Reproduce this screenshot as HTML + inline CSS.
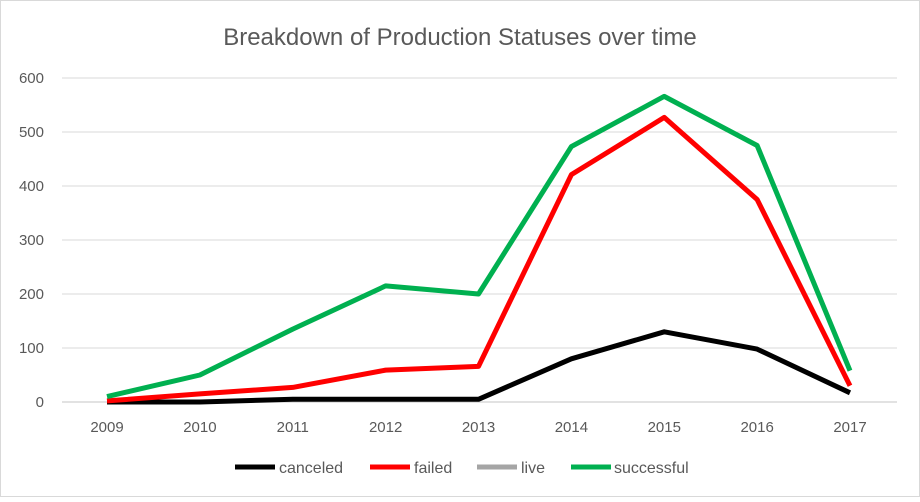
<!DOCTYPE html>
<html><head><meta charset="utf-8"><style>
body{margin:0;background:#fff;}
svg text{font-family:"Liberation Sans",sans-serif;fill:#595959;}
</style></head><body>
<svg width="920" height="497">
<rect x="0.5" y="0.5" width="919" height="496" fill="#fff" stroke="#d9d9d9"/>
<text x="460" y="45" text-anchor="middle" font-size="24">Breakdown of Production Statuses over time</text>
<g id="grid"></g><g id="series"></g>
<g>
<line x1="235" y1="467" x2="275" y2="467" stroke="#000" stroke-width="5"/>
<text x="279" y="473" font-size="16">canceled</text>
<line x1="370" y1="467" x2="410" y2="467" stroke="#ff0000" stroke-width="5"/>
<text x="414" y="473" font-size="16">failed</text>
<line x1="477" y1="467" x2="517" y2="467" stroke="#a5a5a5" stroke-width="5"/>
<text x="521" y="473" font-size="16">live</text>
<line x1="571" y1="467" x2="611" y2="467" stroke="#00b050" stroke-width="5"/>
<text x="614" y="473" font-size="16">successful</text>
</g>
</svg>
<script>
const years=["2009","2010","2011","2012","2013","2014","2015","2016","2017"];
const yTicks=[0,100,200,300,400,500,600];
const canceled=[0,0,5,5,5,80,130,98,17];
const failed=[2,15,27,59,66,421,527,375,30];
const live=[null,null,null,null,null,null,null,null,null];
const successful=[10,50,135,215,200,473,566,475,58];
const NS="http://www.w3.org/2000/svg";
function xs(i){return 107+i*92.875;}
function ys(v){return 402-v*0.54;}
const grid=document.getElementById('grid');
yTicks.forEach(t=>{
 const l=document.createElementNS(NS,'line');
 l.setAttribute('x1',62);l.setAttribute('x2',897);l.setAttribute('y1',ys(t));l.setAttribute('y2',ys(t));
 l.setAttribute('stroke','#d9d9d9');l.setAttribute('stroke-width',t===0?1.5:1);
 
 
 grid.appendChild(l);
 const tx=document.createElementNS(NS,'text');
 tx.setAttribute('x',44);tx.setAttribute('y',ys(t)+5);tx.setAttribute('text-anchor','end');tx.setAttribute('font-size','15');
 tx.textContent=t;
 
 
 grid.appendChild(tx);
});
years.forEach((y,i)=>{
 const tx=document.createElementNS(NS,'text');
 tx.setAttribute('x',xs(i));tx.setAttribute('y',432);tx.setAttribute('text-anchor','middle');tx.setAttribute('font-size','15');
 tx.textContent=y;
 
 
 grid.appendChild(tx);
});
const ser=document.getElementById('series');
[[canceled,'#000','canceled'],[failed,'#ff0000','failed'],[live,'#a5a5a5','live'],[successful,'#00b050','successful']].forEach(([d,c,n])=>{
 const pts=d.map((v,i)=>v===null?null:xs(i)+','+ys(v)).filter(p=>p!==null);
 if(pts.length<2) return;
 const p=document.createElementNS(NS,'polyline');
 p.setAttribute('points',pts.join(' '));
 p.setAttribute('fill','none');p.setAttribute('stroke',c);p.setAttribute('stroke-width',5);p.setAttribute('stroke-linejoin','round');
 
 
 ser.appendChild(p);
});
</script>
</body></html>
